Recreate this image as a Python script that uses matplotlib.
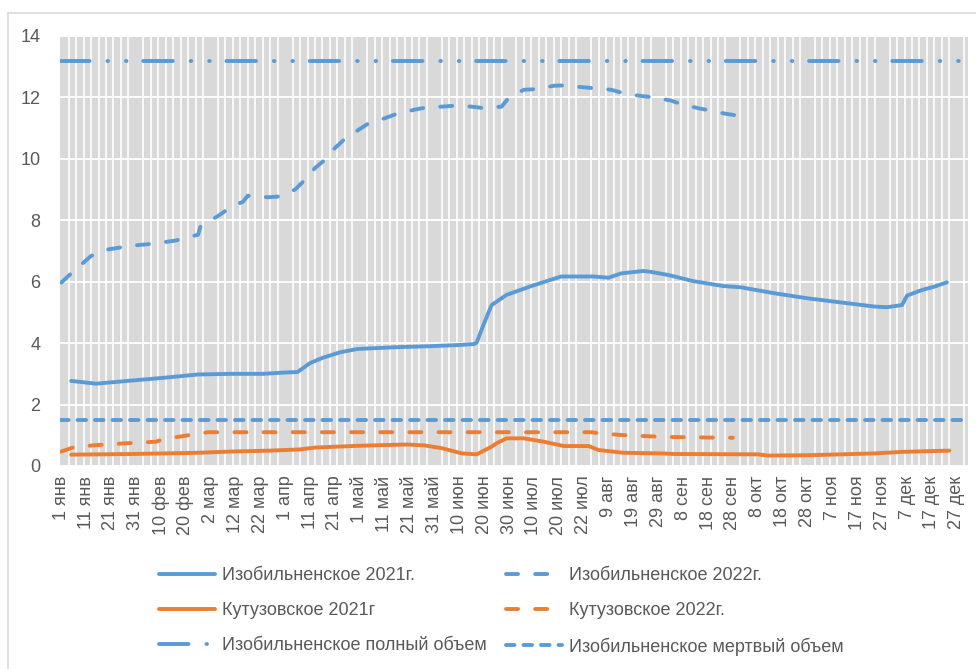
import matplotlib
matplotlib.use("Agg")
import matplotlib.pyplot as plt
from matplotlib.lines import Line2D

plt.rcParams['font.family'] = ['Liberation Sans', 'DejaVu Sans']

# Category axis: one category per observation day
n_categories = 365
tick_labels = ["1 янв", "11 янв", "21 янв", "31 янв", "10 фев", "20 фев", "2 мар",
               "12 мар", "22 мар", "1 апр", "11 апр", "21 апр", "1 май", "11 май",
               "21 май", "31 май", "10 июн", "20 июн", "30 июн", "10 июл", "20 июл",
               "22 июл", "9 авг", "19 авг", "29 авг", "8 сен", "18 сен", "28 сен",
               "8 окт", "18 окт", "28 окт", "7 ноя", "17 ноя", "27 ноя", "7 дек",
               "17 дек", "27 дек"]

# Изобильненское 2021 (млн м3)
izob21_idx = [4, 14, 28, 41, 55, 68, 81, 89, 95, 100, 105, 112, 119, 135, 148, 160,
              166, 167, 170, 173, 179, 189, 201, 214, 220, 225, 234, 237, 244, 254,
              266, 273, 287, 300, 314, 327, 332, 338, 340, 346, 351, 356]
izob21_val = [2.77, 2.68, 2.78, 2.87, 2.98, 3.0, 3.0, 3.04, 3.06, 3.35, 3.52, 3.70,
              3.81, 3.87, 3.90, 3.94, 3.97, 4.02, 4.65, 5.24, 5.57, 5.86, 6.17, 6.17,
              6.13, 6.27, 6.35, 6.32, 6.22, 6.02, 5.86, 5.82, 5.62, 5.46, 5.32, 5.19,
              5.17, 5.24, 5.55, 5.73, 5.84, 5.98]

# Изобильненское 2022
izob22_idx = [0, 4, 12, 18, 28, 36, 46, 55, 56, 63, 69, 73, 75, 83, 87, 94, 98, 102,
              106, 110, 114, 120, 124, 130, 135, 142, 147, 153, 158, 165, 170, 177,
              180, 186, 191, 198, 202, 210, 214, 221, 226, 232, 238, 245, 249, 256,
              261, 267, 271]
izob22_val = [5.97, 6.27, 6.84, 7.04, 7.17, 7.23, 7.34, 7.53, 7.8, 8.14, 8.47, 8.6,
              8.8, 8.75, 8.77, 9.0, 9.32, 9.7, 9.97, 10.35, 10.65, 10.97, 11.18, 11.32,
              11.47, 11.6, 11.68, 11.7, 11.73, 11.7, 11.65, 11.7, 12.0, 12.25, 12.27,
              12.38, 12.39, 12.33, 12.3, 12.25, 12.14, 12.06, 12.0, 11.9, 11.79, 11.65,
              11.57, 11.47, 11.42]

# Кутузовское 2021
kut21_idx = [4, 28, 55, 68, 84, 96, 102, 120, 139, 146, 153, 161, 167, 173, 175, 179,
             186, 194, 202, 212, 216, 226, 241, 247, 280, 284, 300, 327, 338, 357]
kut21_val = [0.37, 0.39, 0.43, 0.47, 0.50, 0.54, 0.60, 0.66, 0.70, 0.67, 0.58, 0.41,
             0.38, 0.63, 0.74, 0.90, 0.90, 0.79, 0.65, 0.65, 0.52, 0.43, 0.41, 0.39,
             0.38, 0.34, 0.35, 0.41, 0.46, 0.50]

# Кутузовское 2022
kut22_idx = [0, 5, 14, 26, 38, 41, 47, 52, 59, 213, 217, 225, 241, 265, 270]
kut22_val = [0.47, 0.61, 0.68, 0.74, 0.79, 0.87, 0.95, 1.01, 1.10, 1.10, 1.06, 1.01,
             0.95, 0.92, 0.92]

full_volume = 13.2
dead_volume = 1.5

blue = '#5B9BD5'
orange = '#ED7D31'
text_color = '#595959'

fig = plt.figure(figsize=(9.76, 6.69), dpi=100)
ax = fig.add_axes([60 / 976, 1 - 466 / 669, 908 / 976, 430 / 669])
ax.set_facecolor('#D9D9D9')

# chart frame
fig.add_artist(Line2D([8 / 976, 8 / 976], [0, 1 - 13 / 669], color='#D9D9D9', lw=1.2,
                      transform=fig.transFigure))
fig.add_artist(Line2D([8 / 976, 1], [1 - 13 / 669, 1 - 13 / 669], color='#D9D9D9', lw=1.2,
                      transform=fig.transFigure))

ax.set_xlim(-0.5, n_categories - 0.5)
ax.set_ylim(0, 14)
ax.set_yticks(range(0, 15, 2))
ax.set_xticks(range(0, 10 * len(tick_labels), 10))
ax.set_xticklabels(tick_labels, rotation=90)
ax.set_xticks(range(0, n_categories, 3), minor=True)
ax.tick_params(axis='both', which='both', length=0, labelsize=13, colors=text_color)
ax.tick_params(axis='y', pad=14)
ax.tick_params(axis='x', pad=7)
ax.grid(True, axis='y', color='white', lw=1.3)
ax.grid(True, axis='x', which='minor', color='white', lw=1.2)
ax.set_axisbelow(True)
for s in ax.spines.values():
    s.set_visible(False)

lw = 2.8
l1, = ax.plot(izob21_idx, izob21_val, color=blue, lw=lw, solid_capstyle='round',
              label='Изобильненское 2021г.')
l2, = ax.plot(izob22_idx, izob22_val, color=blue, lw=lw, dashes=(3.1, 4.4),
              dash_capstyle='round', label='Изобильненское 2022г.')
l3, = ax.plot(kut21_idx, kut21_val, color=orange, lw=lw, solid_capstyle='round',
              label='Кутузовское 2021г')
l4, = ax.plot(kut22_idx, kut22_val, color=orange, lw=lw, dashes=(3.1, 4.4),
              dash_capstyle='round', label='Кутузовское 2022г.')
l5 = ax.axhline(full_volume, color=blue, lw=lw, dashes=(7.6, 4.6, 0.15, 4.6, 0.15, 4.3),
                dash_capstyle='round', label='Изобильненское полный объем')
l6 = ax.axhline(dead_volume, color=blue, lw=lw, dashes=(2.2, 2.3),
                dash_capstyle='round', label='Изобильненское мертвый объем')

# legend filled row by row: two columns, three rows
leg = fig.legend(handles=[l1, l3, l5, l2, l4, l6], ncol=2, loc='upper left',
                 bbox_to_anchor=(143 / 976, 1 - 551 / 669), frameon=False,
                 fontsize=13, handlelength=3.1, handletextpad=0.4,
                 columnspacing=1.05, labelspacing=1.0, labelcolor=text_color)

fig.savefig('out.png', dpi=100)
